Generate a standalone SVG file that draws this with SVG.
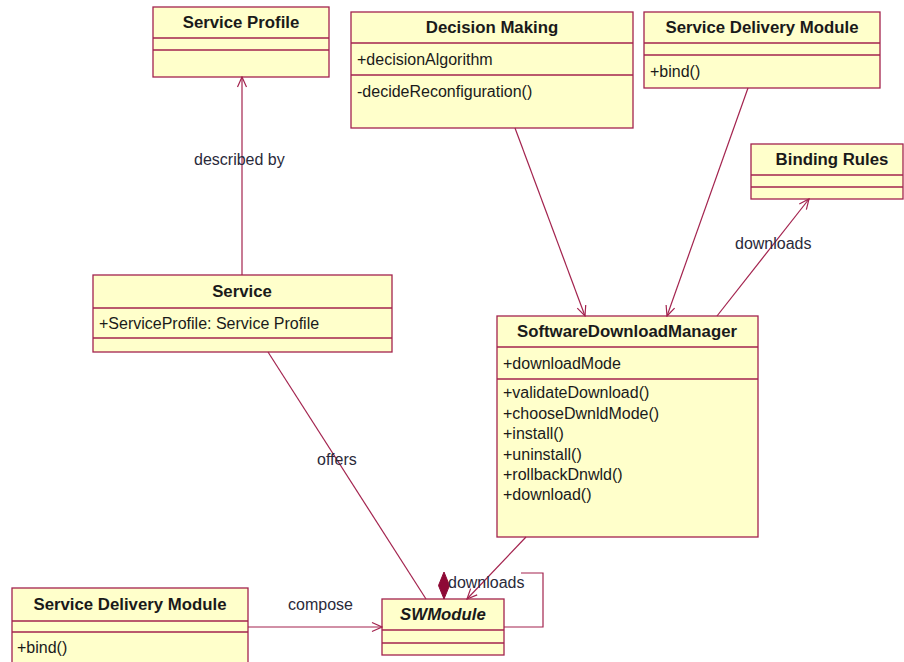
<svg xmlns="http://www.w3.org/2000/svg" width="904" height="662" viewBox="0 0 904 662">
  <defs>
    <style>
      .box { fill: #FFFFCB; stroke: #A3234E; stroke-width: 1.3; }
      .div { stroke: #A3234E; stroke-width: 1.3; fill: none; }
      .title { font-family: "Liberation Sans", Arial, sans-serif; font-size: 16.8px; font-weight: bold; fill: #1a1a1a; text-anchor: middle; }
      .member { font-family: "Liberation Sans", Arial, sans-serif; font-size: 16px; fill: #1a1a1a; }
      .label { font-family: "Liberation Sans", Arial, sans-serif; font-size: 16px; fill: #2a2a3a; }
      .edge { stroke: #A3234E; stroke-width: 1.2; fill: none; }
    </style>
    <marker id="open" viewBox="0 0 12 12" refX="11" refY="6" markerWidth="12" markerHeight="12" markerUnits="userSpaceOnUse" orient="auto">
      <path d="M1,1.5 L11,6 L1,10.5" fill="none" stroke="#A3234E" stroke-width="1.2"/>
    </marker>
  </defs>

  <!-- class boxes -->
  <g id="service-profile">
    <rect class="box" x="153" y="7" width="176" height="70"/>
    <line class="div" x1="153" y1="38" x2="329" y2="38"/>
    <line class="div" x1="153" y1="50" x2="329" y2="50"/>
    <text class="title" x="241" y="28">Service Profile</text>
  </g>

  <g id="decision-making">
    <rect class="box" x="351" y="12" width="282" height="116"/>
    <line class="div" x1="351" y1="43" x2="633" y2="43"/>
    <line class="div" x1="351" y1="75" x2="633" y2="75"/>
    <text class="title" x="492" y="33">Decision Making</text>
    <text class="member" x="357" y="65">+decisionAlgorithm</text>
    <text class="member" x="357" y="97">-decideReconfiguration()</text>
  </g>

  <g id="service-delivery-module-top">
    <rect class="box" x="644" y="12" width="236" height="76"/>
    <line class="div" x1="644" y1="43" x2="880" y2="43"/>
    <line class="div" x1="644" y1="55" x2="880" y2="55"/>
    <text class="title" x="762" y="33">Service Delivery Module</text>
    <text class="member" x="650" y="77">+bind()</text>
  </g>

  <g id="binding-rules">
    <rect class="box" x="751" y="144" width="152" height="55"/>
    <line class="div" x1="751" y1="175" x2="903" y2="175"/>
    <line class="div" x1="751" y1="187" x2="903" y2="187"/>
    <text class="title" x="832" y="165">Binding Rules</text>
  </g>

  <g id="service">
    <rect class="box" x="93" y="275" width="299" height="77"/>
    <line class="div" x1="93" y1="308" x2="392" y2="308"/>
    <line class="div" x1="93" y1="338" x2="392" y2="338"/>
    <text class="title" x="242" y="297">Service</text>
    <text class="member" x="99" y="329">+ServiceProfile: Service Profile</text>
  </g>

  <g id="software-download-manager">
    <rect class="box" x="497" y="316" width="261" height="221"/>
    <line class="div" x1="497" y1="347" x2="758" y2="347"/>
    <line class="div" x1="497" y1="379" x2="758" y2="379"/>
    <text class="title" x="627" y="337">SoftwareDownloadManager</text>
    <text class="member" x="503" y="369">+downloadMode</text>
    <text class="member" x="503" y="398">+validateDownload()</text>
    <text class="member" x="503" y="419">+chooseDwnldMode()</text>
    <text class="member" x="503" y="439">+install()</text>
    <text class="member" x="503" y="460">+uninstall()</text>
    <text class="member" x="503" y="480">+rollbackDnwld()</text>
    <text class="member" x="503" y="500">+download()</text>
  </g>

  <g id="service-delivery-module-bottom">
    <rect class="box" x="12" y="588" width="236" height="80"/>
    <line class="div" x1="12" y1="621" x2="248" y2="621"/>
    <line class="div" x1="12" y1="632" x2="248" y2="632"/>
    <text class="title" x="130" y="610">Service Delivery Module</text>
    <text class="member" x="17" y="653">+bind()</text>
  </g>

  <g id="sw-module">
    <rect class="box" x="382" y="599" width="122" height="56"/>
    <line class="div" x1="382" y1="630" x2="504" y2="630"/>
    <line class="div" x1="382" y1="643" x2="504" y2="643"/>
    <text class="title" x="443" y="620" font-style="italic">SWModule</text>
  </g>

  <!-- associations -->
  <g id="connectors">
    <line class="edge" x1="242" y1="275" x2="242" y2="77" marker-end="url(#open)"/>
    <line class="edge" x1="515" y1="128" x2="585" y2="316" marker-end="url(#open)"/>
    <line class="edge" x1="748" y1="88" x2="667" y2="316" marker-end="url(#open)"/>
    <line class="edge" x1="717" y1="316" x2="809" y2="199" marker-end="url(#open)"/>
    <line class="edge" x1="268" y1="352" x2="426" y2="599"/>
    <line class="edge" x1="526" y1="537" x2="467" y2="599" marker-end="url(#open)"/>
    <line class="edge" x1="248" y1="627" x2="382" y2="627" marker-end="url(#open)"/>
    <path class="edge" d="M521,573 H543 V627 H504"/>
    <path d="M444,599 L449.5,585.5 L444,572 L438.5,585.5 Z" fill="#8E0A36" stroke="#8E0A36" stroke-width="1"/>

    <text class="label" x="194" y="165">described by</text>
    <text class="label" x="735" y="249">downloads</text>
    <text class="label" x="317" y="465">offers</text>
    <text class="label" x="448" y="588">downloads</text>
    <text class="label" x="288" y="610">compose</text>
  </g>
</svg>
